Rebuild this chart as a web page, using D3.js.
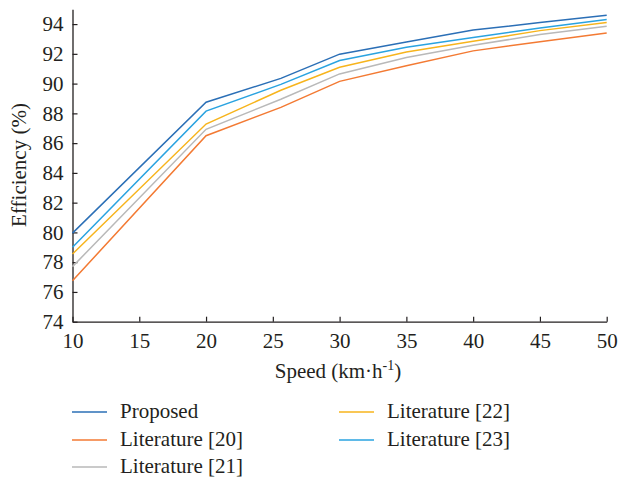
<!DOCTYPE html>
<html><head><meta charset="utf-8">
<script src="https://cdn.jsdelivr.net/npm/d3@7"></script>
<style>body{margin:0;background:#fff}svg{display:block}svg text{font-family:"Liberation Serif","Times New Roman",serif}</style>
</head><body>
<svg id="c" width="619" height="479"></svg>
<script>
const speeds = [10, 20, 25.6, 30, 35, 40, 45, 50];
const seriesNames = ["Proposed", "Literature [20]", "Literature [21]", "Literature [22]", "Literature [23]"];
const proposed = [79.95, 88.75, 90.35, 91.98, 92.8, 93.6, 94.1, 94.6];
const lit20 = [76.75, 86.5, 88.4, 90.15, 91.2, 92.2, 92.82, 93.4];
const lit21 = [77.7, 86.93, 88.95, 90.65, 91.75, 92.57, 93.3, 93.86];
const lit22 = [78.55, 87.28, 89.55, 91.1, 92.12, 92.84, 93.56, 94.1];
const lit23 = [79.0, 88.15, 89.95, 91.55, 92.45, 93.1, 93.74, 94.3];
const xTicks = [10, 15, 20, 25, 30, 35, 40, 45, 50];
const yTicks = [74, 76, 78, 80, 82, 84, 86, 88, 90, 92, 94];
const colors = ["#2B6FB6", "#F37A33", "#B9B9B9", "#F7B41C", "#2AA3E0"];

const allSeries = [proposed, lit20, lit21, lit22, lit23];
const svg = d3.select("#c");
const fs = 21;
const x = d3.scaleLinear().domain([10, 50]).range([72.5, 606.7]);
const y = d3.scaleLinear().domain([74, 95]).range([321.7, 9.2]);

const gx = svg.append("g").attr("transform", `translate(0,${y(74)})`)
  .call(d3.axisBottom(x).tickValues(xTicks).tickSizeInner(-5).tickSizeOuter(0).tickPadding(11));
const gy = svg.append("g").attr("transform", `translate(${x(10)},0)`)
  .call(d3.axisLeft(y).tickValues(yTicks).tickSizeInner(-5).tickSizeOuter(0).tickPadding(9));
[gx, gy].forEach(g => {
  g.attr("font-family", null).attr("font-size", null);
  g.selectAll("path").attr("stroke", "#231f20").attr("stroke-width", 1.3);
  g.selectAll("line").attr("stroke", "#231f20").attr("stroke-width", 1.2);
  g.selectAll("text").style("font-size", fs + "px").attr("fill", "#231f20");
});

const line = d3.line().x((d, i) => x(speeds[i])).y(d => y(d));
allSeries.forEach((s, k) => {
  svg.append("path").datum(s).attr("d", line).attr("fill", "none")
    .attr("stroke", colors[k]).attr("stroke-width", 1.5);
});

svg.append("text").attr("x", 338).attr("y", 378).attr("text-anchor", "middle")
  .style("font-size", fs + "px").attr("fill", "#231f20")
  .html('Speed (km·h<tspan dy="-8" style="font-size:14px">-1</tspan><tspan dy="8">)</tspan>');
svg.append("text").attr("transform", "translate(26,165) rotate(-90)").attr("text-anchor", "middle")
  .style("font-size", fs + "px").attr("fill", "#231f20")
  .text("Efficiency (%)");

const legPos = [[72, 412], [72, 440], [72, 467], [339, 412], [339, 440]];
seriesNames.forEach((n, k) => {
  const [lx, ly] = legPos[k];
  svg.append("line").attr("x1", lx).attr("x2", lx + 35).attr("y1", ly).attr("y2", ly)
    .attr("stroke", colors[k]).attr("stroke-width", 1.5);
  svg.append("text").attr("x", lx + 48).attr("y", ly + 6)
    .style("font-size", fs + "px").attr("fill", "#231f20").text(n);
});
</script>
</body></html>
